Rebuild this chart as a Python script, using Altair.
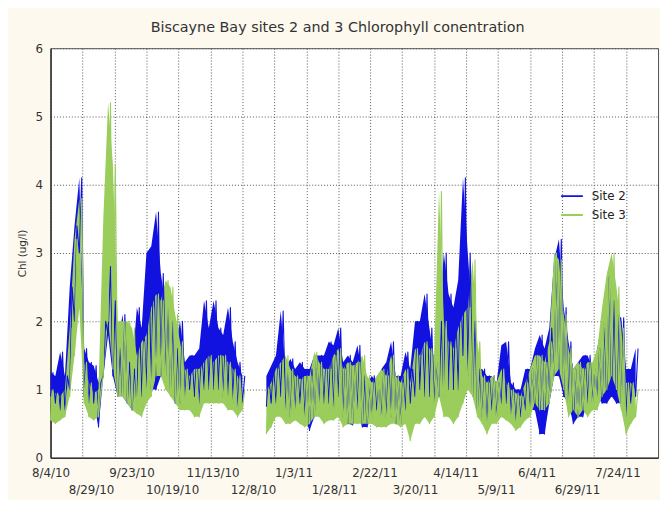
import altair as alt
import pandas as pd

chart_title = "Biscayne Bay sites 2 and 3 Chlorophyll conentration"
series_names = ["Site 2", "Site 3"]
series_colors = ["#1212e0", "#9acd5c"]

# day offsets from 8/4/10 (3-day bins); record gap between day 120 and 135
days = list(range(0, 121, 3)) + list(range(135, 367, 3))

site2_low = [0.9, 0.8, 0.7, 0.65, 1.0, 2.0, 3.0, 0.9, 0.8, 0.8, 0.45, 1.2, 1.8, 1.2, 0.9, 0.9, 0.8, 0.7, 0.8, 0.9,
             1.0, 1.0, 1.0, 1.2, 1.2, 1.0, 0.8, 0.8, 0.9, 1.0, 0.9, 0.8, 1.0, 1.0, 1.0, 1.0, 0.9, 0.9, 0.8, 0.7, 0.8,
             0.75, 0.8, 0.8, 0.9, 0.7, 0.6, 0.7, 0.8, 0.6, 0.4, 0.6, 0.8, 0.8, 0.8, 0.7, 0.9, 0.6, 0.5, 0.48, 0.7,
             0.45, 0.45, 0.6, 0.7, 0.6, 0.6, 0.6, 0.5, 0.5, 0.7, 0.8, 0.9, 1.0, 0.9, 0.9, 0.8, 0.9, 0.9, 1.0, 1.0,
             1.0, 1.5, 1.2, 0.9, 0.7, 0.6, 0.5, 0.7, 0.6, 0.8, 0.8, 0.6, 0.55, 0.6, 0.7, 0.7, 0.7, 0.35, 0.35, 0.8,
             1.2, 1.2, 0.9, 0.8, 0.5, 0.6, 0.6, 0.8, 0.8, 0.9, 0.8, 0.8, 0.9, 0.8, 0.8, 0.6, 0.8, 0.9]
site2_high = [1.25, 1.2, 1.55, 1.2, 2.5, 3.4, 4.1, 1.6, 1.4, 1.35, 1.1, 2.0, 2.8, 2.3, 1.6, 2.1, 1.4, 1.3, 2.2, 1.9,
              3.0, 3.1, 3.6, 2.7, 2.2, 2.0, 1.6, 2.0, 1.4, 1.5, 1.5, 1.6, 2.3, 1.9, 2.3, 1.9, 1.8, 2.2, 1.7, 1.4, 1.2,
              1.2, 1.35, 1.5, 2.15, 1.3, 1.45, 1.3, 1.4, 1.3, 1.3, 1.5, 1.5, 1.5, 1.7, 1.65, 1.9, 1.4, 1.5, 1.4, 1.65,
              1.2, 1.1, 1.2, 1.1, 1.3, 1.4, 1.7, 1.2, 1.2, 1.55, 1.3, 2.0, 2.0, 2.4, 1.9, 1.4, 2.0, 3.0, 2.4, 2.2,
              2.6, 4.1, 3.0, 2.0, 1.3, 1.3, 1.2, 1.2, 1.1, 1.65, 1.7, 1.1, 1.0, 1.0, 1.3, 1.3, 1.6, 1.8, 1.6, 1.9,
              2.9, 3.2, 2.2, 1.7, 1.3, 1.4, 1.5, 1.5, 1.3, 1.6, 2.0, 2.65, 2.3, 2.1, 2.05, 1.3, 1.3, 1.6]
site3_low = [0.55, 0.5, 0.55, 0.6, 0.9, 1.5, 2.2, 0.8, 0.6, 0.55, 0.6, 1.2, 2.0, 1.3, 0.9, 0.9, 0.8, 0.7, 0.65, 0.6,
             0.8, 0.9, 1.2, 1.2, 1.0, 0.9, 0.8, 0.7, 0.7, 0.7, 0.6, 0.6, 0.8, 0.8, 0.8, 0.8, 0.8, 0.7, 0.7, 0.6, 0.7,
             0.35, 0.45, 0.6, 0.6, 0.5, 0.5, 0.55, 0.5, 0.45, 0.5, 0.6, 0.6, 0.5, 0.55, 0.55, 0.6, 0.45, 0.5, 0.5, 0.5,
             0.5, 0.5, 0.5, 0.45, 0.45, 0.45, 0.5, 0.5, 0.45, 0.5, 0.25, 0.5, 0.5, 0.6, 0.5, 0.6, 0.9, 0.6, 0.6, 0.5,
             0.6, 0.8, 1.0, 0.9, 0.6, 0.5, 0.35, 0.5, 0.5, 0.6, 0.55, 0.5, 0.4, 0.45, 0.55, 0.6, 0.8, 0.7, 0.7, 0.8,
             1.2, 1.3, 1.0, 0.6, 0.7, 0.6, 0.7, 0.6, 0.7, 0.7, 0.9, 1.0, 1.2, 1.0, 0.7, 0.35, 0.5, 0.6]
site3_high = [1.0, 0.95, 0.9, 1.0, 1.9, 3.2, 3.8, 1.4, 1.1, 0.95, 1.0, 3.5, 5.2, 4.3, 2.0, 2.0, 2.0, 1.9, 1.5, 1.7,
              1.8, 2.2, 2.4, 2.3, 2.6, 2.5, 2.1, 1.7, 1.3, 1.2, 1.3, 1.3, 1.4, 1.5, 1.4, 1.5, 1.5, 1.4, 1.3, 1.2, 1.0,
              1.0, 1.1, 1.3, 1.4, 1.5, 1.3, 1.2, 1.15, 1.2, 1.2, 1.55, 1.4, 1.3, 1.3, 1.5, 1.6, 1.3, 1.4, 1.35, 1.4,
              1.5, 1.2, 1.1, 1.2, 1.3, 1.2, 1.5, 1.2, 1.1, 1.3, 1.1, 1.6, 1.5, 1.7, 1.6, 1.5, 3.9, 2.0, 1.7, 1.6,
              1.9, 2.1, 2.2, 2.9, 1.7, 1.2, 1.1, 1.2, 1.1, 1.3, 1.1, 1.0, 0.95, 0.9, 1.1, 1.3, 1.5, 1.5, 1.4, 1.7,
              3.0, 2.9, 2.1, 1.6, 1.3, 1.4, 1.3, 1.4, 1.4, 1.6, 2.2, 2.7, 3.0, 2.5, 1.9, 1.1, 1.1, 1.0]

tick_labels = ["8/4/10", "8/29/10", "9/23/10", "10/19/10", "11/13/10", "12/8/10", "1/3/11", "1/28/11",
               "2/22/11", "3/20/11", "4/14/11", "5/9/11", "6/4/11", "6/29/11", "7/24/11"]
x_max = 380
n_div = 15
grid_days = list(range(0, x_max + 1, 20))
label_days = [k * x_max / n_div for k in range(len(tick_labels))]
y_ticks = [0, 1, 2, 3, 4, 5, 6]

series_data = [(series_names[0], site2_low, site2_high), (series_names[1], site3_low, site3_high)]

line_rows = []
band_rows = []
for i, d in enumerate(days):
    seg = 0 if d <= 120 else 1
    for name, lo, hi in series_data:
        line_rows.append({"day": d, "chl": lo[i], "site": name, "seg": seg})
        line_rows.append({"day": d + 1.5, "chl": hi[i], "site": name, "seg": seg})
        band_rows.append({"day": d, "lo": lo[i], "hi": hi[i], "site": name, "seg": seg})
line_df = pd.DataFrame(line_rows)
band_df = pd.DataFrame(band_rows)

labels_js = "[" + ",".join("'" + t + "'" for t in tick_labels) + "]"
k = f"(datum.value*{n_div}/{x_max})"
label_expr = (f"(abs({k}-round({k}))<0.01 && round({k})<{len(tick_labels)}) ? "
              f"(round({k})%2==1 ? ['', {labels_js}[round({k})]] : {labels_js}[round({k})]) : ''")

x_scale = alt.Scale(domain=[0, x_max], nice=False, zero=False)
y_scale = alt.Scale(domain=[0, 6], nice=False, zero=True)
x_axis = alt.Axis(values=sorted(set(grid_days + label_days)), title=None, grid=True,
                  gridOpacity={"condition": {"test": "datum.value % 20 == 0", "value": 1}, "value": 0},
                  labelExpr=label_expr, labelOverlap=False, labelFlush=False, labelBound=False,
                  ticks=False, labelPadding=10, labelLineHeight=17, labelBaseline="top")
y_axis = alt.Axis(values=y_ticks, title="Chl (ug/l)", grid=True, ticks=False, labelPadding=8,
                  titleFontSize=10.5, titlePadding=8, titleFontWeight="normal", titleColor="#333")
color_enc = alt.Color("site:N",
                      scale=alt.Scale(domain=series_names, range=series_colors),
                      legend=alt.Legend(orient="none", legendX=515, legendY=140, title=None,
                                        symbolType="stroke", symbolSize=484, symbolStrokeWidth=2,
                                        labelFont="DejaVu Sans", labelFontSize=12, labelColor="#222",
                                        labelOffset=8, clipHeight=19, rowPadding=0, padding=0))

area_layers = []
line_layers = []
for (name, _, _), col in zip(series_data, series_colors):
    for seg in (0, 1):
        area_layers.append(
            alt.Chart(band_df)
            .transform_filter((alt.datum.site == name) & (alt.datum.seg == seg))
            .mark_area(fill=col, color=col, fillOpacity=1, interpolate="linear")
            .encode(x=alt.X("day:Q", scale=x_scale, axis=x_axis),
                    y=alt.Y("lo:Q", scale=y_scale, axis=y_axis),
                    y2=alt.Y2("hi"))
        )
    line_layers.append(
        alt.Chart(line_df).transform_filter(alt.datum.site == name)
        .mark_line(strokeWidth=1.1, strokeJoin="round")
        .encode(x=alt.X("day:Q", scale=x_scale, axis=x_axis),
                y=alt.Y("chl:Q", scale=y_scale, axis=y_axis),
                color=color_enc, detail="seg:N", order="day:Q")
    )

chart = alt.layer(*(area_layers + line_layers)).properties(
    width=614, height=414,
    autosize=alt.AutoSizeParams(type="none"),
    padding={"left": 43, "top": 38, "right": 2, "bottom": 40},
    title=alt.TitleParams(text=chart_title, font="DejaVu Sans", fontSize=14.5, fontWeight="normal",
                          color="#333", anchor="middle", frame="bounds", offset=7),
).configure(background="#fdf9ee").configure_view(
    stroke="#555", strokeWidth=1, fill="white"
).configure_axis(
    domainColor="#333", domainWidth=1.5, labelFont="DejaVu Sans", labelFontSize=12, labelColor="#333",
    titleFont="DejaVu Sans", gridColor="#555", gridDash=[1, 2], gridWidth=1
)

chart.save("out.html", embed_options={"renderer": "svg", "actions": False})
